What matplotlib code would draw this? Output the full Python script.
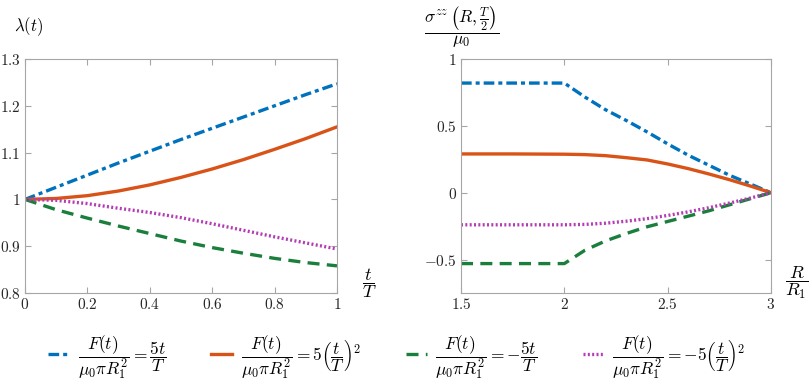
import matplotlib
matplotlib.use('Agg')
from matplotlib import pyplot, ticker

# fmt: off
pyplot.rcParams['mathtext.fontset'] = 'cm'
pyplot.rcParams['font.family'] = ['DejaVu Serif']

# Left panel: stretch lambda(t) against t/T
t_vals = [0.0, 0.1, 0.2, 0.3, 0.4, 0.5, 0.6, 0.7, 0.8, 0.9, 1.0]
lam_linear_pos = [1.0, 1.026, 1.052, 1.078, 1.103, 1.128, 1.152, 1.176, 1.200, 1.224, 1.247]
lam_quad_pos = [1.0, 1.002, 1.008, 1.018, 1.031, 1.047, 1.065, 1.085, 1.107, 1.130, 1.155]
lam_linear_neg = [1.0, 0.978, 0.960, 0.943, 0.927, 0.911, 0.897, 0.885, 0.874, 0.865, 0.858]
lam_quad_neg = [1.0, 0.998, 0.991, 0.981, 0.972, 0.961, 0.948, 0.934, 0.920, 0.907, 0.894]

# Right panel: sigma_zz(R, T/2)/mu0 against R/R1
r_vals = [1.5, 1.75, 2.0, 2.1, 2.2, 2.3, 2.4, 2.5, 2.6, 2.7, 2.8, 2.9, 3.0]
sig_linear_pos = [0.82, 0.82, 0.82, 0.715, 0.62, 0.54, 0.455, 0.365, 0.28, 0.205, 0.13, 0.065, 0.0]
sig_quad_pos = [0.29, 0.29, 0.288, 0.285, 0.277, 0.262, 0.245, 0.215, 0.18, 0.14, 0.097, 0.05, 0.0]
sig_linear_neg = [-0.53, -0.53, -0.53, -0.43, -0.36, -0.305, -0.255, -0.215, -0.175, -0.135, -0.09, -0.045, 0.0]
sig_quad_neg = [-0.24, -0.24, -0.24, -0.237, -0.228, -0.213, -0.194, -0.17, -0.143, -0.112, -0.077, -0.04, 0.0]

labels = [
    r'$\dfrac{F(t)}{\mu_0\pi R_1^2}=\dfrac{5t}{T}$',
    r'$\dfrac{F(t)}{\mu_0\pi R_1^2}=5\left(\dfrac{t}{T}\right)^2$',
    r'$\dfrac{F(t)}{\mu_0\pi R_1^2}=-\dfrac{5t}{T}$',
    r'$\dfrac{F(t)}{\mu_0\pi R_1^2}=-5\left(\dfrac{t}{T}\right)^2$',
]
# fmt: on

_BLUE = '#0072BD'
_ORANGE = '#D95319'
_GREEN = '#1A7F3C'
_MAGENTA = '#B43CB4'
_FRAME = '#A6A6A6'
_LW = 2.4

styles = [
    dict(color=_BLUE, linestyle=(0, (3.2, 1.2, 1.2, 1.2))),
    dict(color=_ORANGE, linestyle='-'),
    dict(color=_GREEN, linestyle=(0, (3.6, 2.2))),
    dict(color=_MAGENTA, linestyle=(0, (0.6, 0.7))),
]

W, H = 810, 383
fig = pyplot.figure(figsize=(W / 100, H / 100), dpi=100)


def px_axes(x0, y0, x1, y1):
    return fig.add_axes([x0 / W, 1 - y1 / H, (x1 - x0) / W, (y1 - y0) / H])


def style_axes(ax):
    for sp in ax.spines.values():
        sp.set_color(_FRAME)
        sp.set_linewidth(0.8)
    ax.tick_params(direction='in', top=True, right=True, length=4, width=0.8,
                   color=_FRAME, labelcolor='#262626', labelsize=11, pad=3)
    fmt = ticker.FuncFormatter(lambda v, _: f'${v:g}$')
    ax.xaxis.set_major_formatter(fmt)
    ax.yaxis.set_major_formatter(fmt)


ax1 = px_axes(25, 59, 337, 293)
series1 = [lam_linear_pos, lam_quad_pos, lam_linear_neg, lam_quad_neg]
handles = []
for ys, st in zip(series1, styles):
    h, = ax1.plot(t_vals, ys, linewidth=_LW, **st)
    handles.append(h)
ax1.set_xlim(0, 1)
ax1.set_ylim(0.8, 1.3)
ax1.set_xticks([0, 0.2, 0.4, 0.6, 0.8, 1.0])
ax1.set_yticks([0.8, 0.9, 1.0, 1.1, 1.2, 1.3])
style_axes(ax1)

ax2 = px_axes(461, 59, 771, 293)
series2 = [sig_linear_pos, sig_quad_pos, sig_linear_neg, sig_quad_neg]
for ys, st in zip(series2, styles):
    ax2.plot(r_vals, ys, linewidth=_LW, **st)
ax2.set_xlim(1.5, 3)
ax2.set_ylim(-0.75, 1)
ax2.set_xticks([1.5, 2, 2.5, 3])
ax2.set_yticks([-0.5, 0, 0.5, 1])
style_axes(ax2)

# axis labels placed like the original (outside the boxes)
fig.text(29 / W, 1 - 27 / H, r'$\lambda(t)$', fontsize=12, ha='center', va='center')
fig.text(462 / W, 1 - 27 / H, r'$\dfrac{\sigma^{zz}\,\left(R,\frac{T}{2}\right)}{\mu_0}$',
         fontsize=12.5, ha='center', va='center')
fig.text(369 / W, 1 - 283 / H, r'$\dfrac{t}{T}$', fontsize=13, ha='center', va='center')
fig.text(797 / W, 1 - 283 / H, r'$\dfrac{R}{R_1}$', fontsize=13, ha='center', va='center')

fig.legend(handles, labels, loc='center', bbox_to_anchor=(0.49, 1 - 357 / H), ncol=4,
           frameon=False, fontsize=12.5, handlelength=1.2, handletextpad=0.5,
           columnspacing=2.6)

fig.savefig('out.png', dpi=100)
